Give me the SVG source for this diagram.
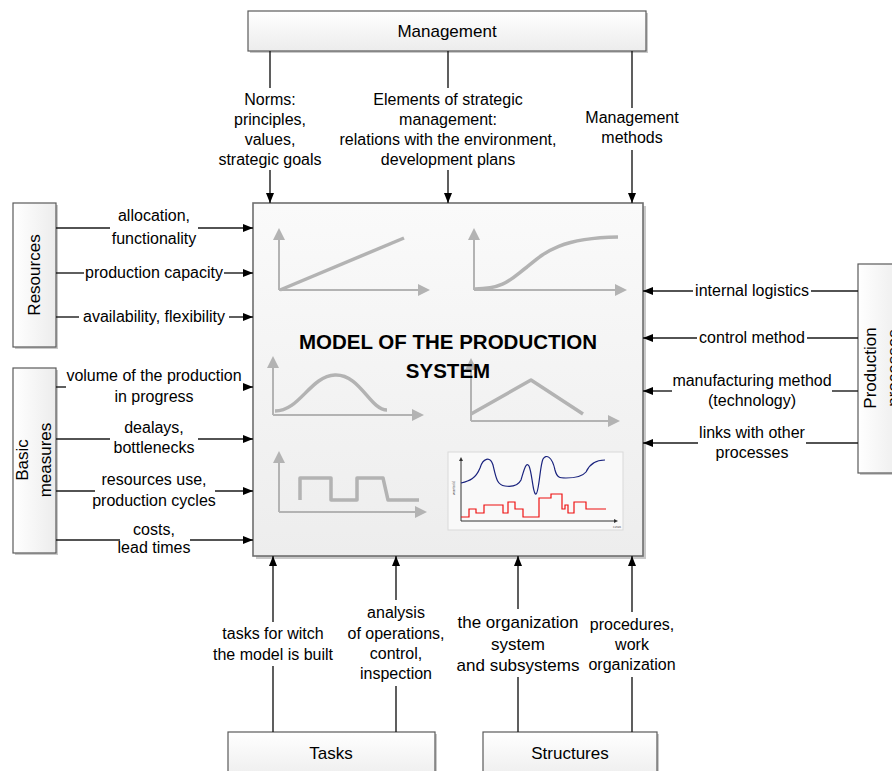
<svg xmlns="http://www.w3.org/2000/svg" width="892" height="771" viewBox="0 0 892 771">
<defs>
<linearGradient id="boxg" x1="0" y1="0" x2="0" y2="1">
<stop offset="0" stop-color="#ffffff"/>
<stop offset="1" stop-color="#ececec"/>
</linearGradient>
<linearGradient id="mainbg" x1="0" y1="0" x2="0" y2="1">
<stop offset="0" stop-color="#fafafa"/>
<stop offset="1" stop-color="#ededed"/>
</linearGradient>
<linearGradient id="sideg" x1="0" y1="0" x2="1" y2="0">
<stop offset="0" stop-color="#ffffff"/>
<stop offset="1" stop-color="#ececec"/>
</linearGradient>
<marker id="arr" markerUnits="userSpaceOnUse" markerWidth="10" markerHeight="8" refX="10" refY="4" orient="auto">
<path d="M0,0 L10,4 L0,8 Z" fill="#000"/>
</marker>
<marker id="garr" markerUnits="userSpaceOnUse" markerWidth="12" markerHeight="12" refX="10" refY="6" orient="auto">
<path d="M0,0 L12,6 L0,12 Z" fill="#b3b3b3"/>
</marker>
</defs>
<style>
.box{stroke:#5a5a5a;stroke-width:1.2}
.shadow{fill:#c9c9c9}
.lbl{font-family:"Liberation Sans",Arial,sans-serif;font-size:16px;fill:#000;text-anchor:middle}
.big{font-size:17px}
.ttl{font-family:"Liberation Sans",Arial,sans-serif;font-size:17px;fill:#000;text-anchor:middle}
.con{stroke:#1a1a1a;stroke-width:1.4;fill:none}
.conm{stroke:#1a1a1a;stroke-width:1.4;fill:none;marker-end:url(#arr)}
.ax{stroke:#b3b3b3;stroke-width:2;fill:none;marker-end:url(#garr)}
.cv{stroke:#b3b3b3;stroke-width:3.5;fill:none;stroke-linejoin:round}
</style>

<!-- Main node -->
<g id="model">
<rect class="shadow" x="256" y="206" width="390" height="353"/>
<rect x="253" y="203" width="390" height="353" fill="url(#mainbg)" stroke="#6e6e6e" stroke-width="1.6"/>
<!-- graph 1 -->
<path class="ax" d="M279,290 L279,230"/>
<path class="ax" d="M279,290 L428,290"/>
<path class="cv" d="M280,290 L404,238"/>
<!-- graph 2 -->
<path class="ax" d="M474,290 L474,230"/>
<path class="ax" d="M474,290 L625,290"/>
<path class="cv" d="M475,289 C505,289 512,278 527,267 C545,252 560,238 618,237"/>
<!-- graph 3 -->
<path class="ax" d="M273,415 L273,358"/>
<path class="ax" d="M273,415 L422,415"/>
<path class="cv" d="M275,411 C300,411 310,376 335,375 C360,374 370,410 387,410"/>
<!-- graph 4 -->
<path class="ax" d="M471,421 L471,360"/>
<path class="ax" d="M471,421 L618,421"/>
<path class="cv" d="M471,414 L531,380 L583,414"/>
<!-- graph 5 -->
<path class="ax" d="M279,512 L279,453"/>
<path class="ax" d="M279,512 L425,512"/>
<path class="cv" d="M300,500 L300,478 L331,478 L331,500 L357,500 L357,478 L383,478 L388,500 L419,500"/>
<!-- graph 6 (chart picture) -->
<rect x="448" y="452" width="175" height="78" fill="#f9f9f9" stroke="#d9d9d9" stroke-width="1"/>
<path d="M461,521 L461,459" stroke="#333" stroke-width="1"/>
<path d="M459,461 L461,457 L463,461 Z" fill="#333"/>
<path d="M461,521 L616,521" stroke="#333" stroke-width="1"/>
<path d="M614,519 L618,521 L614,523 Z" fill="#333"/>
<path d="M461,483 C470,481 476,478 480,468 C483,458 490,456 493,465 C496,478 497,485 505,486 C512,487 518,486 521,480 C524,470 526,461 529,466 C532,472 533,495 536,494 C539,493 540,465 543,459 C546,454 552,456 555,470 C557,478 560,478 566,478 C575,478 582,477 586,472 C590,463 596,460 605,460" fill="none" stroke="#1a237e" stroke-width="1.2"/>
<path d="M461,517 L469,517 L469,509 L476,509 L476,513 L484,513 L484,505 L503,505 L503,513 L508,513 L508,502 L515,502 L515,509 L523,509 L523,517 L539,517 L539,498 L551,498 L551,494 L562,494 L562,509 L565,509 L565,505 L568,505 L568,513 L574,513 L574,502 L586,502 L586,509 L606,509" fill="none" stroke="#ee1111" stroke-width="1.2"/>
<text x="455" y="488" transform="rotate(-90 455 488)" font-family="Liberation Sans, Arial, sans-serif" font-size="4" fill="#555" text-anchor="middle">wartość</text>
<text x="617" y="528" font-family="Liberation Sans, Arial, sans-serif" font-size="4" fill="#555" text-anchor="middle">czas</text>
<text font-family="Liberation Sans, Arial, sans-serif" font-size="20.5" font-weight="bold" fill="#000" text-anchor="middle"><tspan x="448" y="349">MODEL OF THE PRODUCTION</tspan><tspan x="448" y="378">SYSTEM</tspan></text>
</g>

<!-- Management -->
<g id="management">
<rect class="shadow" x="250" y="13" width="398" height="40"/>
<rect class="box" x="248" y="11" width="398" height="40" fill="url(#boxg)"/>
<text class="ttl" x="447" y="37">Management</text>
</g>

<!-- Resources -->
<g id="resources">
<rect class="shadow" x="15" y="205" width="43" height="144"/>
<rect class="box" x="13" y="203" width="43" height="144" fill="url(#sideg)"/>
<text class="ttl" transform="translate(39.5,275) rotate(-90)" x="0" y="0">Resources</text>
</g>

<!-- Basic measures -->
<g id="basic-measures">
<rect class="shadow" x="15" y="370" width="43" height="185"/>
<rect class="box" x="13" y="368" width="43" height="185" fill="url(#sideg)"/>
<text class="ttl" transform="translate(0,460) rotate(-90)"><tspan x="0" y="28">Basic</tspan><tspan x="0" y="51">measures</tspan></text>
</g>

<!-- Production processes -->
<g id="production-processes">
<rect class="shadow" x="860" y="266" width="45" height="209"/>
<rect class="box" x="858" y="264" width="45" height="209" fill="url(#sideg)"/>
<text class="ttl" transform="translate(0,368) rotate(-90)"><tspan x="0" y="876">Production</tspan><tspan x="0" y="899">processes</tspan></text>
</g>

<!-- Tasks -->
<g id="tasks">
<rect class="shadow" x="230" y="734" width="207" height="50"/>
<rect class="box" x="228" y="732" width="207" height="50" fill="url(#boxg)"/>
<text class="ttl" x="331" y="759">Tasks</text>
</g>

<!-- Structures -->
<g id="structures">
<rect class="shadow" x="485" y="734" width="174" height="50"/>
<rect class="box" x="483" y="732" width="174" height="50" fill="url(#boxg)"/>
<text class="ttl" x="570" y="759">Structures</text>
</g>

<!-- Connectors -->
<g id="connectors">
<path class="con" d="M270,51 L270,88"/><path class="conm" d="M270,170 L270,203"/>
<path class="con" d="M448,51 L448,88"/><path class="conm" d="M448,170 L448,203"/>
<path class="con" d="M632,51 L632,108"/><path class="conm" d="M632,150 L632,203"/>
<path class="con" d="M56,228 L110,228"/><path class="conm" d="M198,228 L253,228"/>
<path class="con" d="M56,273 L84,273"/><path class="conm" d="M224,273 L253,273"/>
<path class="con" d="M56,317 L79,317"/><path class="conm" d="M229,317 L253,317"/>
<path class="con" d="M56,387 L66,387"/><path class="conm" d="M243,387 L253,387"/>
<path class="con" d="M56,439 L110,439"/><path class="conm" d="M198,439 L253,439"/>
<path class="con" d="M56,491 L95,491"/><path class="conm" d="M215,491 L253,491"/>
<path class="con" d="M56,540 L120,540"/><path class="conm" d="M190,540 L253,540"/>
<path class="con" d="M858,291 L811,291"/><path class="conm" d="M693,291 L643,291"/>
<path class="con" d="M858,338 L807,338"/><path class="conm" d="M697,338 L643,338"/>
<path class="con" d="M858,391 L832,391"/><path class="conm" d="M672,391 L643,391"/>
<path class="con" d="M858,443 L806,443"/><path class="conm" d="M698,443 L643,443"/>
<path class="con" d="M273,732 L273,666"/><path class="conm" d="M273,622 L273,556"/>
<path class="con" d="M396,732 L396,686"/><path class="conm" d="M396,600 L396,556"/>
<path class="con" d="M518,732 L518,677"/><path class="conm" d="M518,609 L518,556"/>
<path class="con" d="M632,732 L632,677"/><path class="conm" d="M632,612 L632,556"/>
</g>

<!-- Connector labels -->
<g id="labels">
<text class="lbl"><tspan x="270" y="105">Norms:</tspan><tspan x="270" y="125">principles,</tspan><tspan x="270" y="145">values,</tspan><tspan x="270" y="165">strategic goals</tspan></text>
<text class="lbl"><tspan x="448" y="105">Elements of strategic</tspan><tspan x="448" y="125">management:</tspan><tspan x="448" y="145">relations with the environment,</tspan><tspan x="448" y="165">development plans</tspan></text>
<text class="lbl"><tspan x="632" y="123">Management</tspan><tspan x="632" y="143">methods</tspan></text>

<text class="lbl"><tspan x="154" y="221">allocation,</tspan><tspan x="154" y="244">functionality</tspan></text>
<text class="lbl" x="154" y="278">production capacity</text>
<text class="lbl" x="154" y="322">availability, flexibility</text>

<text class="lbl"><tspan x="154" y="381">volume of the production</tspan><tspan x="154" y="402">in progress</tspan></text>
<text class="lbl"><tspan x="154" y="433">dealays,</tspan><tspan x="154" y="453">bottlenecks</tspan></text>
<text class="lbl"><tspan x="154" y="485">resources use,</tspan><tspan x="154" y="506">production cycles</tspan></text>
<text class="lbl"><tspan x="154" y="535">costs,</tspan><tspan x="154" y="553">lead times</tspan></text>

<text class="lbl" x="752" y="296">internal logistics</text>
<text class="lbl" x="752" y="343">control method</text>
<text class="lbl"><tspan x="752" y="386">manufacturing method</tspan><tspan x="752" y="406">(technology)</tspan></text>
<text class="lbl"><tspan x="752" y="438">links with other</tspan><tspan x="752" y="458">processes</tspan></text>

<text class="lbl"><tspan x="273" y="639">tasks for witch</tspan><tspan x="273" y="660">the model is built</tspan></text>
<text class="lbl"><tspan x="396" y="618">analysis</tspan><tspan x="396" y="639">of operations,</tspan><tspan x="396" y="659">control,</tspan><tspan x="396" y="679">inspection</tspan></text>
<text class="lbl big"><tspan x="518" y="628">the organization</tspan><tspan x="518" y="650">system</tspan><tspan x="518" y="671">and subsystems</tspan></text>
<text class="lbl"><tspan x="632" y="630">procedures,</tspan><tspan x="632" y="650">work</tspan><tspan x="632" y="670">organization</tspan></text>
</g>
</svg>
